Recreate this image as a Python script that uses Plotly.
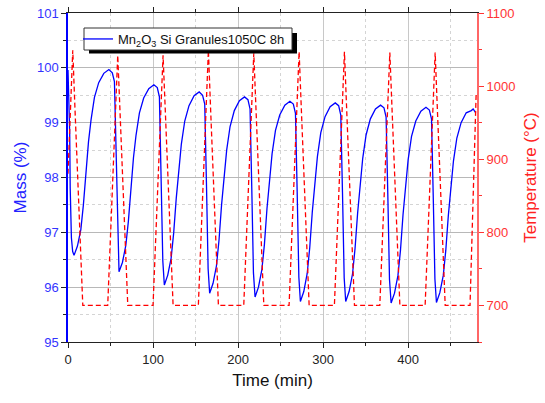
import plotly.graph_objects as go

# ---- data ----
mass_time = [
    0, 0.8, 2.0, 2.6, 4.0, 5.5,
    7.1, 11.1, 15.1, 18.1, 21.1, 24.1, 27.1, 31.1, 36.1, 42.1, 48.1, 52.1, 54.6, 56.6, 58.6,
    60.0, 64, 68, 71, 74, 77, 80, 84, 89, 95, 101, 105, 107.5, 109.5, 111.5,
    113.3, 117.3, 121.3, 124.3, 127.3, 130.3, 133.3, 137.3, 142.3, 148.3, 154.3, 158.3, 160.8, 162.8, 164.8,
    166.6, 170.6, 174.6, 177.6, 180.6, 183.6, 186.6, 190.6, 195.6, 201.6, 207.6, 211.6, 214.1, 216.1, 218.1,
    220.0, 224, 228, 231, 234, 237, 240, 244, 249, 255, 261, 265, 267.5, 269.5, 271.5,
    273.3, 277.3, 281.3, 284.3, 287.3, 290.3, 293.3, 297.3, 302.3, 308.3, 314.3, 318.3, 320.8, 322.8, 324.8,
    326.6, 330.6, 334.6, 337.6, 340.6, 343.6, 346.6, 350.6, 355.6, 361.6, 367.6, 371.6, 374.1, 376.1, 378.1,
    380.0, 384, 388, 391, 394, 397, 400, 404, 409, 415, 421, 425, 427.5, 429.5, 431.5,
    433.3, 437.3, 441.3, 444.3, 447.3, 450.3, 453.3, 457.3, 462.3, 468.3, 474.3, 476.5, 479.5,
]
mass_value = [
    99.96, 99.50, 98.80, 97.80, 96.90, 96.65,
    96.58, 96.75, 97.05, 97.50, 98.11, 98.65, 99.05, 99.46, 99.73, 99.90, 99.97, 99.91, 99.75, 98.31, 96.72,
    96.28, 96.45, 96.76, 97.20, 97.81, 98.36, 98.77, 99.18, 99.45, 99.62, 99.69, 99.64, 99.47, 98.05, 96.48,
    96.04, 96.22, 96.53, 96.99, 97.62, 98.19, 98.61, 99.03, 99.31, 99.49, 99.56, 99.50, 99.34, 97.91, 96.33,
    95.89, 96.07, 96.39, 96.86, 97.50, 98.07, 98.50, 98.93, 99.22, 99.40, 99.47, 99.42, 99.25, 97.83, 96.26,
    95.82, 96.00, 96.32, 96.78, 97.43, 98.00, 98.43, 98.86, 99.14, 99.32, 99.39, 99.34, 99.17, 97.75, 96.18,
    95.74, 95.92, 96.25, 96.72, 97.37, 97.95, 98.38, 98.82, 99.11, 99.29, 99.36, 99.31, 99.14, 97.73, 96.17,
    95.74, 95.92, 96.24, 96.71, 97.35, 97.92, 98.35, 98.78, 99.07, 99.25, 99.32, 99.27, 99.10, 97.70, 96.14,
    95.71, 95.89, 96.21, 96.67, 97.32, 97.89, 98.32, 98.75, 99.03, 99.21, 99.28, 99.23, 99.07, 97.68, 96.15,
    95.72, 95.90, 96.21, 96.67, 97.31, 97.87, 98.30, 98.72, 99.00, 99.18, 99.22, 99.25, 99.18,
]

temp_time = [
    0, 5.6, 8.1, 17.4,
    46.7, 58.5, 61.0, 70.3,
    100.0, 111.8, 114.3, 123.6,
    153.3, 165.1, 167.6, 176.9,
    206.7, 218.5, 221.0, 230.3,
    260.0, 271.8, 274.3, 283.6,
    313.3, 325.1, 327.6, 336.9,
    366.7, 378.5, 381.0, 390.3,
    420.0, 431.8, 434.3, 443.6,
    472.8, 480.0,
]
temp_value = [
    880, 1049, 972, 700,
    700, 1042, 970, 700,
    700, 1042, 970, 700,
    700, 1049, 972, 700,
    700, 1045, 971, 700,
    700, 1047, 972, 700,
    700, 1047, 972, 700,
    700, 1046, 971, 700,
    700, 1046, 971, 700,
    700, 990,
]

x_ticks = [0, 100, 200, 300, 400]
mass_ticks = [95, 96, 97, 98, 99, 100, 101]
temp_ticks = [700, 800, 900, 1000, 1100]

series_name = "Mn<sub>2</sub>O<sub>3</sub> Si Granules1050C 8h"

FONT = "Arial, Liberation Sans, sans-serif"
BLUE = "#0000FF"
RED = "#FF0000"

fig = go.Figure()
fig.add_trace(go.Scatter(
    x=mass_time, y=mass_value, mode="lines", name=series_name,
    line=dict(color=BLUE, width=1.3), yaxis="y",
))
fig.add_trace(go.Scatter(
    x=temp_time, y=temp_value, mode="lines", name="Temperature",
    line=dict(color=RED, width=1.3, dash="5px,3px"), yaxis="y2",
    showlegend=False,
))

L, R, T, B = 68, 68, 13, 61
W, H = 545, 403
pw, ph = W - L - R, H - T - B

def px(xp):
    return (xp - L) / pw

def py(yp):
    return (H - B - yp) / ph

fig.update_layout(
    width=W, height=H,
    margin=dict(l=L, r=R, t=T, b=B, autoexpand=False),
    paper_bgcolor="white", plot_bgcolor="white",
    font=dict(family=FONT, size=13, color="#222222"),
    xaxis=dict(
        range=[0, 481], tickvals=x_ticks, ticks="outside", ticklen=5,
        tickcolor="#222222", tickfont=dict(size=13, color="#222222"),
        showline=True, linecolor="#222222", linewidth=1.2, mirror="ticks",
        showgrid=True, gridcolor="#C8C8C8", gridwidth=1, zeroline=False,
        minor=dict(dtick=50, tick0=0, ticks="outside", ticklen=3, tickcolor="#222222",
                   showgrid=True, gridcolor="#D4D4D4", griddash="dot"),
        title=dict(text="Time (min)", font=dict(size=17, color="#111111"), standoff=8),
    ),
    yaxis=dict(
        range=[95, 101], tickvals=mass_ticks, ticks="outside", ticklen=5,
        tickcolor="#222222", tickfont=dict(size=13, color="#3333FF"),
        showline=True, linecolor=BLUE, linewidth=1.5,
        showgrid=True, gridcolor="#B8B8B8", gridwidth=1, zeroline=False,
        minor=dict(dtick=0.5, tick0=95, ticks="outside", ticklen=3, tickcolor="#222222",
                   showgrid=True, gridcolor="#D4D4D4", griddash="dot"),
        title=dict(text="Mass (%)", font=dict(size=17, color="#2222FF"), standoff=6),
    ),
    yaxis2=dict(
        range=[650, 1100], tickvals=temp_ticks, ticks="outside", ticklen=5,
        tickcolor="#FF3333", tickfont=dict(size=13, color="#FF3333"),
        overlaying="y", side="right",
        showline=True, linecolor="#FF6666", linewidth=2,
        showgrid=False, zeroline=False,
        minor=dict(dtick=50, tick0=650, ticks="outside", ticklen=3, tickcolor="#FF3333"),
        title=dict(text="Temperature (°C)", font=dict(size=17, color="#FF2222"), standoff=10),
    ),
    legend=dict(
        x=px(82), y=py(24), xanchor="left", yanchor="top",
        bgcolor="rgba(0,0,0,0)", borderwidth=0,
        font=dict(size=13, color="#111111"),
        itemwidth=30, tracegroupgap=0, indentation=-4,
    ),
    shapes=[
        dict(type="rect", xref="paper", yref="paper", layer="above",
             x0=px(89), x1=px(297), y0=py(53.5), y1=py(33),
             fillcolor="black", line=dict(width=0)),
        dict(type="rect", xref="paper", yref="paper", layer="above",
             x0=px(84), x1=px(292), y0=py(50), y1=py(28),
             fillcolor="white", line=dict(color="#333333", width=1)),
    ],
)

fig.write_html("out.html")
